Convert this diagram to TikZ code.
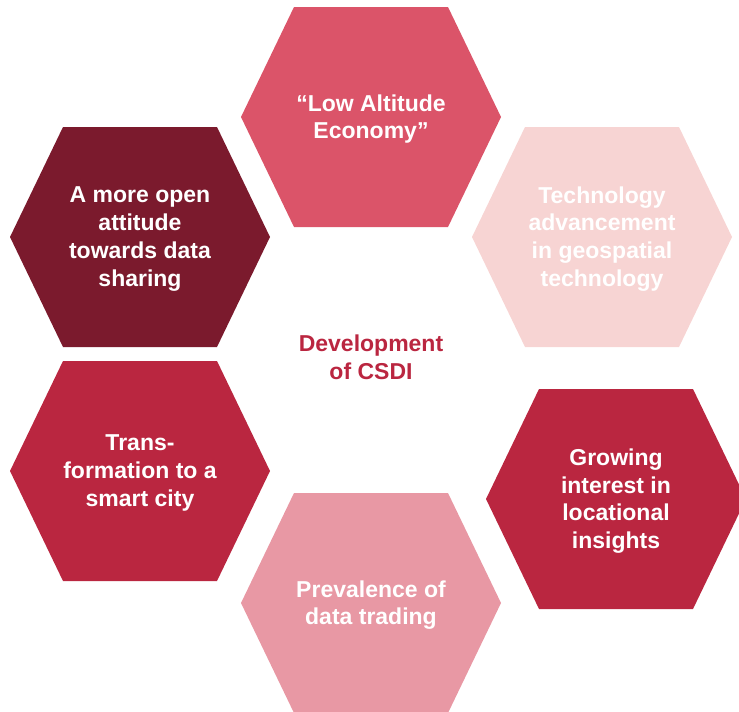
\documentclass[tikz,border=0pt]{standalone}
\usepackage{fontspec}
\setmainfont{Liberation Sans}
\usetikzlibrary{positioning}

\definecolor{altitude}{HTML}{DB5469}
\definecolor{techpink}{HTML}{F7D4D3}
\definecolor{maroon}{HTML}{7B1A2D}
\definecolor{crimson}{HTML}{BA2640}
\definecolor{tradepink}{HTML}{E898A4}

\tikzset{
	hexcell/.pic={\fill (-130,0) -- (-77,-110) -- (77,-110) -- (130,0) -- (77,110) -- (-77,110) -- cycle;},
	cell/.style={align=center, text=white, yshift=-2pt, font=\bfseries\fontsize{23}{27.8}\selectfont}
}

\begin{document}
\begin{tikzpicture}[x=1pt, y=-1pt]
	\useasboundingbox (0,0) rectangle (739,712);

	% the six hexagons
	\pic[fill=altitude] at (371,117) {hexcell};
	\pic[fill=techpink] at (602,237) {hexcell};
	\pic[fill=maroon] at (140,237) {hexcell};
	\pic[fill=crimson] at (140,471) {hexcell};
	\pic[fill=crimson] at (616,499) {hexcell};
	\pic[fill=tradepink] at (371,603) {hexcell};

	\node[cell] (low) at (371,117) {“Low Altitude\\Economy”};
	\node[cell] (tech) at (602,237) {Technology\\advancement\\in geospatial\\technology};
	\node[cell] (open) at (140,237) {A more open\\attitude\\towards data\\sharing};
	\node[cell] (smart) at (140,471) {Trans-\\formation to a\\smart city};
	\node[cell] (growing) at (616,499) {Growing\\interest in\\locational\\insights};
	\node[cell] (trading) at (371,603) {Prevalence of\\data trading};

	\node[cell, text=crimson] (csdi) at (371,355) {Development\\of CSDI};
\end{tikzpicture}
\end{document}
